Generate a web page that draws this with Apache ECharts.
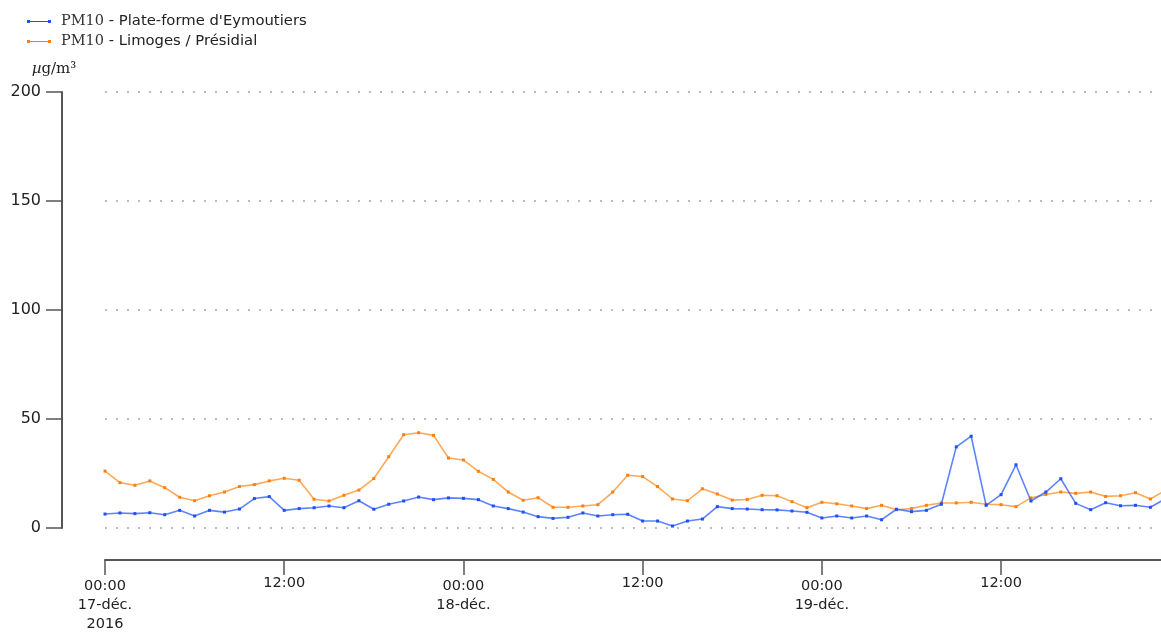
<!DOCTYPE html>
<html>
<head>
<meta charset="utf-8">
<script src="https://cdn.jsdelivr.net/npm/echarts@6/dist/echarts.min.js"></script>
<style>
html,body{margin:0;padding:0;background:#fff;}
#c{width:1161px;height:634px;}
</style>
</head>
<body>
<div id="c"></div>
<script>
// Hourly values starting 17-déc. 2016 00:00 (index = hours since start)
var seriesNames = ["PM10 - Plate-forme d'Eymoutiers", "PM10 - Limoges / Présidial"];
var eymoutiers = [6.4,6.9,6.6,7.0,6.1,8.1,5.5,8.1,7.3,8.7,13.5,14.4,8.1,8.9,9.3,10.1,9.3,12.5,8.6,10.9,12.4,14.2,13.0,13.8,
  13.6,13.0,10.1,8.9,7.3,5.2,4.4,4.9,6.9,5.5,6.1,6.3,3.2,3.2,0.9,3.2,4.1,9.8,8.9,8.7,8.4,8.3,7.8,7.2,
  4.6,5.5,4.6,5.5,3.8,8.6,7.5,8.1,10.9,37.2,42.1,10.4,15.3,29.0,12.4,16.5,22.6,11.3,8.4,11.6,10.2,10.4,9.5,13.4];
var limoges = [26.1,20.8,19.6,21.6,18.5,14.1,12.5,14.8,16.5,19.0,19.9,21.6,22.8,21.9,13.2,12.4,15.0,17.4,22.7,32.7,42.8,43.7,42.5,32.1,
  31.2,26.0,22.3,16.5,12.7,13.9,9.5,9.5,10.1,10.7,16.5,24.2,23.6,19.0,13.3,12.5,18.0,15.6,12.8,13.1,15.0,14.8,12.1,9.3,
  11.8,11.1,10.1,8.9,10.4,8.4,8.9,10.4,11.5,11.5,11.8,10.9,10.7,9.8,13.8,15.4,16.5,15.9,16.5,14.5,14.8,16.2,13.3,17.3];
var tickLabels = {0:['00:00','17-déc.','2016'], 12:['12:00'], 24:['00:00','18-déc.'], 36:['12:00'], 48:['00:00','19-déc.'], 60:['12:00']};
var yTicks = [0,50,100,150,200];
var xMaxHours = 70.71;

function toPairs(arr){ return arr.map(function(v,i){ return [i, v]; }); }

var chart = echarts.init(document.getElementById('c'));
var axisColor = '#555';
chart.setOption({
  animation: false,
  backgroundColor: '#fff',
  textStyle: {fontFamily: 'DejaVu Sans'},
  grid: {left: 105, right: 0, top: 92, bottom: 106, containLabel: false},
  legend: {
    orient: 'vertical', left: 22, top: 9, itemGap: 5,
    itemWidth: 24, itemHeight: 3,
    icon: 'path://M0,0h3v3h-3zM3,1h18v1h-18zM21,0h3v3h-3z',
    data: seriesNames,
    formatter: function(n){ var p = n.split(' - '); return '{s|' + p[0] + '}{t| - ' + p[1] + '}'; },
    textStyle: {
      color: '#222', padding: [0,0,0,5],
      rich: {
        s: {fontFamily: 'DejaVu Serif', fontSize: 14.5, color: '#333', lineHeight: 17},
        t: {fontFamily: 'DejaVu Sans', fontSize: 14.8, color: '#222', lineHeight: 17}
      }
    }
  },
  xAxis: {
    type: 'value', min: 0, max: xMaxHours, interval: 12,
    position: 'bottom', offset: 32,
    axisLine: {show: true, onZero: false, lineStyle: {color: axisColor, width: 2}},
    axisTick: {show: true, length: 15, lineStyle: {color: axisColor, width: 1.5}},
    splitLine: {show: false},
    axisLabel: {
      margin: 17, color: '#222', fontSize: 14.5,
      showMaxLabel: false,
      formatter: function(v){
        var l = tickLabels[Math.round(v)];
        if (!l) return '';
        if (l.length === 1) return '{a|' + l[0] + '}';
        return l.map(function(s){ return '{b|' + s + '}'; }).join('\n');
      },
      rich: {
        a: {fontSize: 14.5, lineHeight: 12, color: '#222'},
        b: {fontSize: 14.5, lineHeight: 19, color: '#222'}
      }
    }
  },
  yAxis: {
    type: 'value', min: 0, max: 200, interval: 50, offset: 43,
    name: '{m|µ}{n|g/m³}', nameLocation: 'end', nameGap: 15,
    nameTextStyle: {
      padding: [0, 16, 0, 0],
      rich: {
        m: {fontFamily: 'DejaVu Serif', fontStyle: 'italic', fontSize: 15, color: '#222'},
        n: {fontFamily: 'DejaVu Serif', fontSize: 15, color: '#222'}
      }
    },
    axisLine: {show: true, onZero: false, lineStyle: {color: axisColor, width: 2}},
    axisTick: {show: true, length: 16, lineStyle: {color: axisColor, width: 1.5}},
    axisLabel: {margin: 21, color: '#222', fontSize: 16,
      formatter: function(v){ return yTicks.indexOf(v) >= 0 ? String(v) : ''; }},
    splitLine: {show: true, lineStyle: {color: '#bbb', width: 2, type: [2, 9]}}
  },
  series: [
    {
      name: seriesNames[0], type: 'line', data: toPairs(eymoutiers), clip: true,
      symbol: 'rect', symbolSize: 3, showSymbol: true,
      color: '#1f4dff',
      itemStyle: {color: '#1f4dff'},
      lineStyle: {color: 'rgba(40,90,255,0.75)', width: 1.6},
      z: 3
    },
    {
      name: seriesNames[1], type: 'line', data: toPairs(limoges), clip: true,
      symbol: 'rect', symbolSize: 3, showSymbol: true,
      color: '#ff7f0e',
      itemStyle: {color: '#ff7f0e'},
      lineStyle: {color: 'rgba(255,140,30,0.75)', width: 1.6},
      z: 2
    }
  ]
});
</script>
</body>
</html>
